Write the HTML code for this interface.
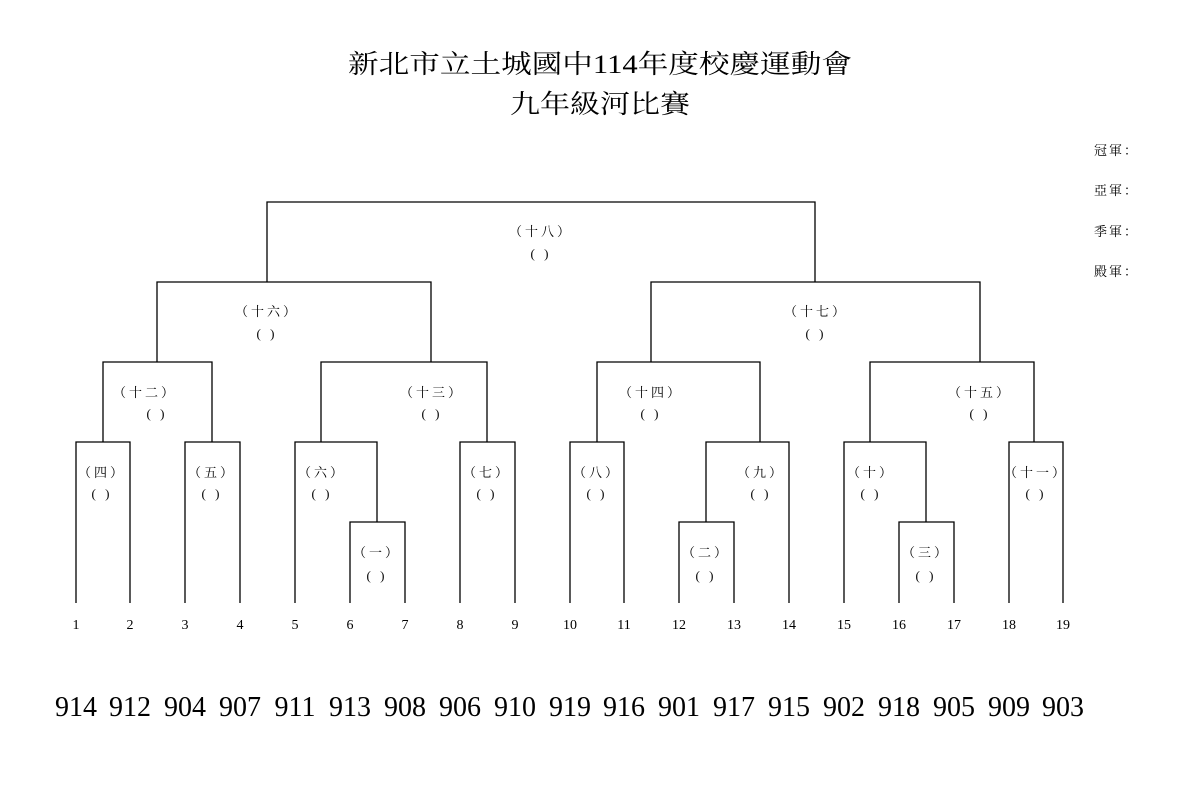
<!DOCTYPE html>
<html><head><meta charset="utf-8"><style>
html,body{margin:0;padding:0;background:#fff;width:1203px;height:787px;overflow:hidden}
svg text{font-family:"Liberation Serif","Noto Serif CJK SC","Noto Sans CJK TC",serif;fill:#000}
</style></head><body>
<svg width="1203" height="787" xmlns="http://www.w3.org/2000/svg">
<text x="348" y="73" font-size="26" textLength="504" lengthAdjust="spacingAndGlyphs">新北市立土城國中114年度校慶運動會</text>
<text x="510" y="113" font-size="26" textLength="180" lengthAdjust="spacingAndGlyphs">九年級河比賽</text>
<g font-size="13" text-anchor="start" letter-spacing="2">
<text x="1094" y="155">冠軍：</text>
<text x="1094" y="195">亞軍：</text>
<text x="1094" y="236">季軍：</text>
<text x="1094" y="276">殿軍：</text>
</g>
<g stroke="#000" stroke-width="1.3" fill="none">
<path d="M350 603V522H405V603"/>
<path d="M679 603V522H734V603"/>
<path d="M899 603V522H954V603"/>
<path d="M76 603V442H130V603"/>
<path d="M185 603V442H240V603"/>
<path d="M295 603V442H377V522"/>
<path d="M460 603V442H515V603"/>
<path d="M570 603V442H624V603"/>
<path d="M706 522V442H789V603"/>
<path d="M844 603V442H926V522"/>
<path d="M1009 603V442H1063V603"/>
<path d="M103 442V362H212V442"/>
<path d="M321 442V362H487V442"/>
<path d="M597 442V362H760V442"/>
<path d="M870 442V362H1034V442"/>
<path d="M157 362V282H431V362"/>
<path d="M651 362V282H980V362"/>
<path d="M267 282V202H815V282"/>
</g>
<g font-size="13" text-anchor="middle" letter-spacing="3">
<text x="541" y="236">（十八）</text><text x="541" y="258">(  )</text>
<text x="267" y="316">（十六）</text><text x="267" y="338">(  )</text>
<text x="816" y="316">（十七）</text><text x="816" y="338">(  )</text>
<text x="145" y="397">（十二）</text><text x="157" y="418">(  )</text>
<text x="432" y="397">（十三）</text><text x="432" y="418">(  )</text>
<text x="651" y="397">（十四）</text><text x="651" y="418">(  )</text>
<text x="980" y="397">（十五）</text><text x="980" y="418">(  )</text>
<text x="102" y="477">（四）</text><text x="102" y="498">(  )</text>
<text x="212" y="477">（五）</text><text x="212" y="498">(  )</text>
<text x="322" y="477">（六）</text><text x="322" y="498">(  )</text>
<text x="487" y="477">（七）</text><text x="487" y="498">(  )</text>
<text x="597" y="477">（八）</text><text x="597" y="498">(  )</text>
<text x="761" y="477">（九）</text><text x="761" y="498">(  )</text>
<text x="871" y="477">（十）</text><text x="871" y="498">(  )</text>
<text x="1036" y="477">（十一）</text><text x="1036" y="498">(  )</text>
<text x="377" y="557">（一）</text><text x="377" y="580">(  )</text>
<text x="706" y="557">（二）</text><text x="706" y="580">(  )</text>
<text x="926" y="557">（三）</text><text x="926" y="580">(  )</text>
</g>
<g font-size="14" text-anchor="middle">
<text x="76" y="629">1</text><text x="130" y="629">2</text><text x="185" y="629">3</text><text x="240" y="629">4</text><text x="295" y="629">5</text><text x="350" y="629">6</text><text x="405" y="629">7</text><text x="460" y="629">8</text><text x="515" y="629">9</text><text x="570" y="629">10</text><text x="624" y="629">11</text><text x="679" y="629">12</text><text x="734" y="629">13</text><text x="789" y="629">14</text><text x="844" y="629">15</text><text x="899" y="629">16</text><text x="954" y="629">17</text><text x="1009" y="629">18</text><text x="1063" y="629">19</text>
</g>
<g font-size="28" text-anchor="middle">
<text x="76" y="716">914</text><text x="130" y="716">912</text><text x="185" y="716">904</text><text x="240" y="716">907</text><text x="295" y="716">911</text><text x="350" y="716">913</text><text x="405" y="716">908</text><text x="460" y="716">906</text><text x="515" y="716">910</text><text x="570" y="716">919</text><text x="624" y="716">916</text><text x="679" y="716">901</text><text x="734" y="716">917</text><text x="789" y="716">915</text><text x="844" y="716">902</text><text x="899" y="716">918</text><text x="954" y="716">905</text><text x="1009" y="716">909</text><text x="1063" y="716">903</text>
</g>
</svg>
</body></html>
